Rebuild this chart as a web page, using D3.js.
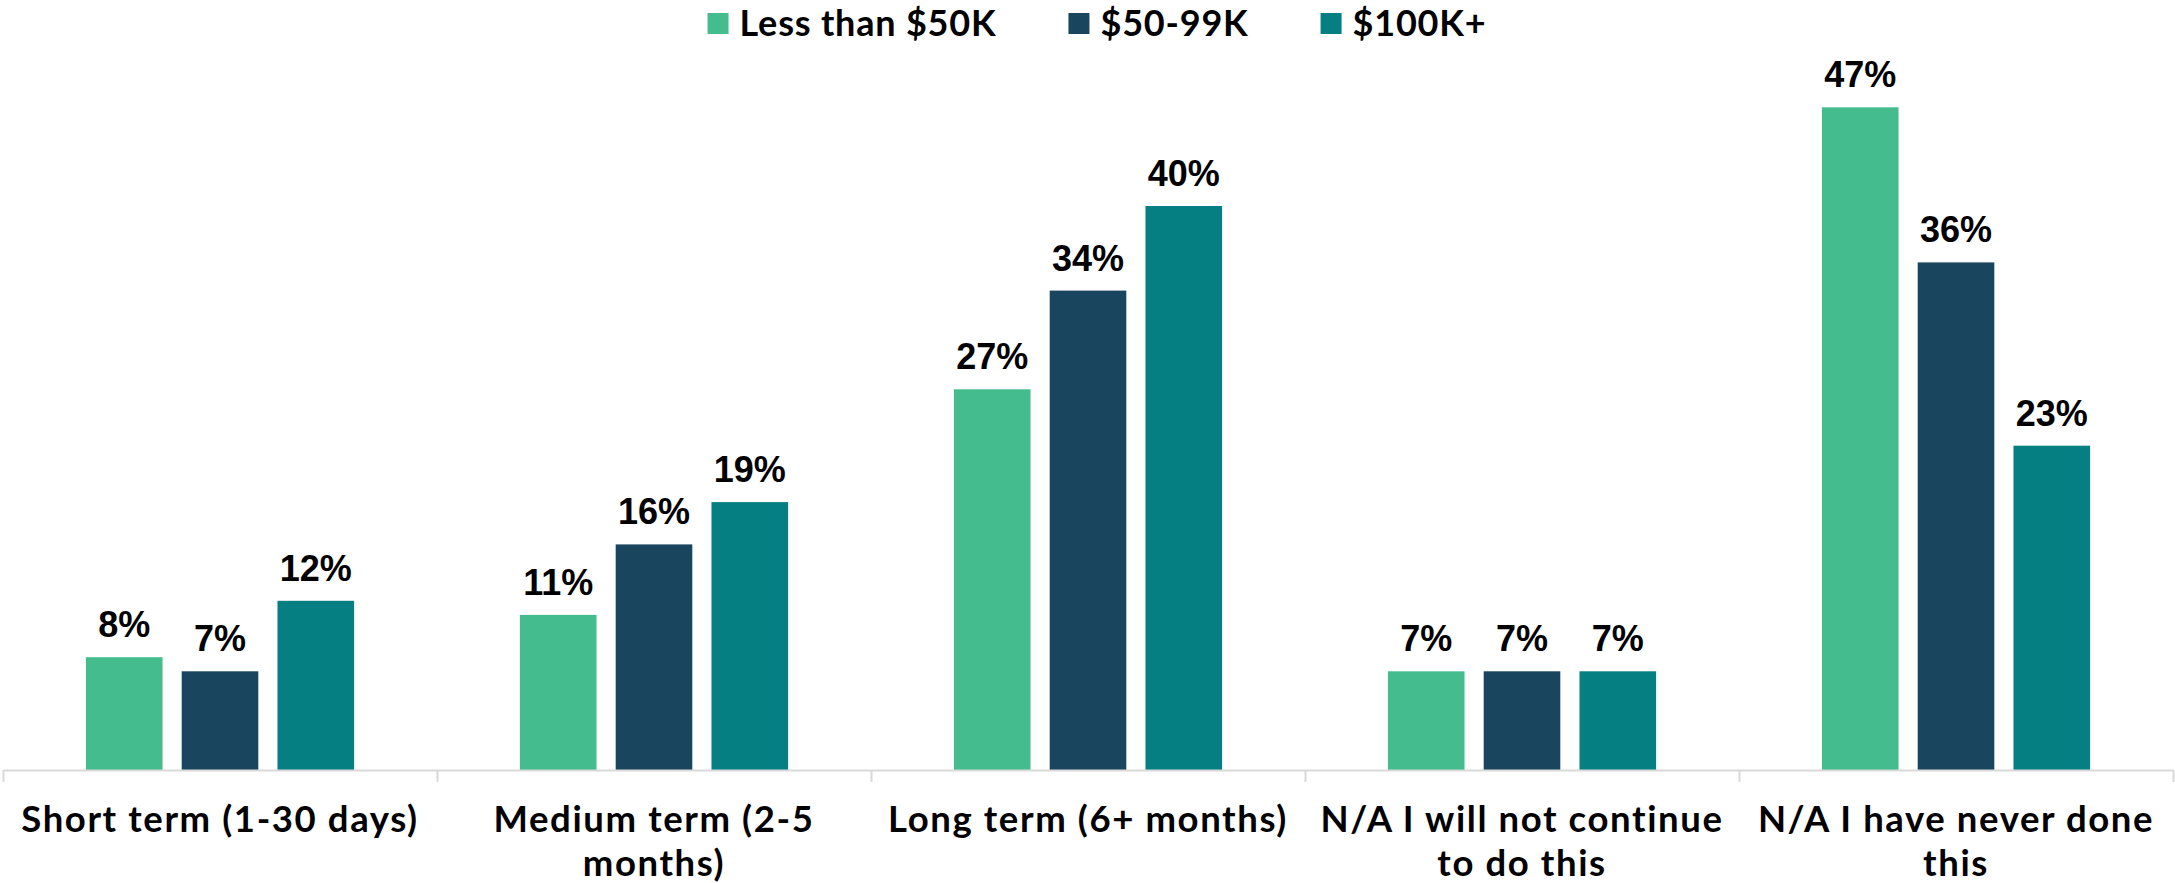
<!DOCTYPE html>
<html lang="en">
	<head>
		<meta charset="utf-8">
		<title> Planned duration by income </title>
		<script src="https://d3js.org/d3.v7.min.js" charset="utf-8"></script>
		<style type="text/css">
		body { margin: 0; background: #fff; }
		.cat, .legend text { font-family: Lato, "Open Sans", sans-serif; font-weight: bold; fill: #000; }
		.cat { letter-spacing: 1.6px; }
		.legend text { letter-spacing: 0.8px; }
		.val { font-family: "Liberation Sans", Arial, sans-serif; font-weight: bold; fill: #000; }
		</style>
		<link rel="icon" href="data:;base64,=">
	</head>
	<body>
	<script type="text/javascript">

		// data
		const categories = ["Short term (1-30 days)", "Medium term (2-5 months)", "Long term (6+ months)",
			"N/A I will not continue to do this", "N/A I have never done this"];
		// how each label wraps in the original
		const categoryLines = [
			["Short term (1-30 days)"],
			["Medium term (2-5", "months)"],
			["Long term (6+ months)"],
			["N/A I will not continue", "to do this"],
			["N/A I have never done", "this"]
		];
		const series = ["Less than $50K", "$50-99K", "$100K+"];
		const lessThan50 = [8, 11, 27, 7, 47];
		const from50to99 = [7, 16, 34, 7, 36];
		const over100 = [12, 19, 40, 7, 23];
		const colors = ["#45bc8d", "#1a455e", "#067f83"];

		const w = 2175;
		const h = 883;
		const base = 770;

		const svg = d3.select("body")
				.append("svg")
				.attr("width", w)
				.attr("height", h);

		const x = d3.scaleBand()
				.domain(categories)
				.range([3, 2173]);

		const xs = d3.scaleBand()
				.domain(series)
				.range([x.bandwidth() * 0.191, x.bandwidth() * 0.809])
				.paddingInner(0.2);

		const y = d3.scaleLinear()
				.domain([0, 50])
				.range([base, base - 705]);

		const color = d3.scaleOrdinal().domain(series).range(colors);

		const rows = [];
		[lessThan50, from50to99, over100].forEach(function(vals, s) {
			vals.forEach(function(v, i) {
				rows.push({cat: categories[i], s: series[s], v: v});
			});
		});

		// bars
		svg.selectAll("rect.bar")
			.data(rows)
			.enter()
			.append("rect")
			.attr("class", "bar")
			.attr("x", d => x(d.cat) + xs(d.s))
			.attr("y", d => y(d.v))
			.attr("width", xs.bandwidth())
			.attr("height", d => y(0) - y(d.v))
			.style("fill", d => color(d.s));

		// value labels
		svg.selectAll("text.val")
			.data(rows)
			.enter()
			.append("text")
			.attr("class", "val")
			.attr("x", d => x(d.cat) + xs(d.s) + xs.bandwidth() / 2)
			.attr("y", d => y(d.v) - 20)
			.attr("text-anchor", "middle")
			.style("font-size", "36px")
			.text(d => d.v + "%");

		// axis line with ticks between categories
		const edges = d3.scaleLinear().domain([0, categories.length]).range(x.range());
		const axis = svg.append("g")
			.attr("transform", "translate(0," + base + ")")
			.call(d3.axisBottom(edges).ticks(categories.length).tickFormat("").tickSize(12).tickSizeOuter(0));
		axis.select(".domain").attr("stroke", "#d9d9d9").attr("stroke-width", 2);
		axis.selectAll(".tick line").attr("stroke", "#d9d9d9").attr("stroke-width", 2);

		// category labels
		categoryLines.forEach(function(lines, i) {
			const t = svg.append("text")
				.attr("class", "cat")
				.attr("text-anchor", "middle")
				.style("font-size", "36.5px");
			lines.forEach(function(line, j) {
				t.append("tspan")
					.attr("x", x(categories[i]) + x.bandwidth() / 2)
					.attr("y", 832 + j * 44)
					.text(line);
			});
		});

		// legend
		const legend = svg.append("g").attr("class", "legend");
		let lx = 0;
		series.forEach(function(s, i) {
			const g = legend.append("g").attr("transform", "translate(" + lx + ",0)");
			g.append("rect")
				.attr("x", 0)
				.attr("y", 13)
				.attr("width", 21)
				.attr("height", 21)
				.style("fill", color(s));
			const t = g.append("text")
				.attr("x", 32)
				.attr("y", 36)
				.style("font-size", "36px")
				.text(s);
			lx += 32 + t.node().getComputedTextLength() + 72;
		});
		const lw = lx - 72;
		legend.attr("transform", "translate(" + (1097 - lw / 2) + ",0)");

	</script>
	</body>
</html>
